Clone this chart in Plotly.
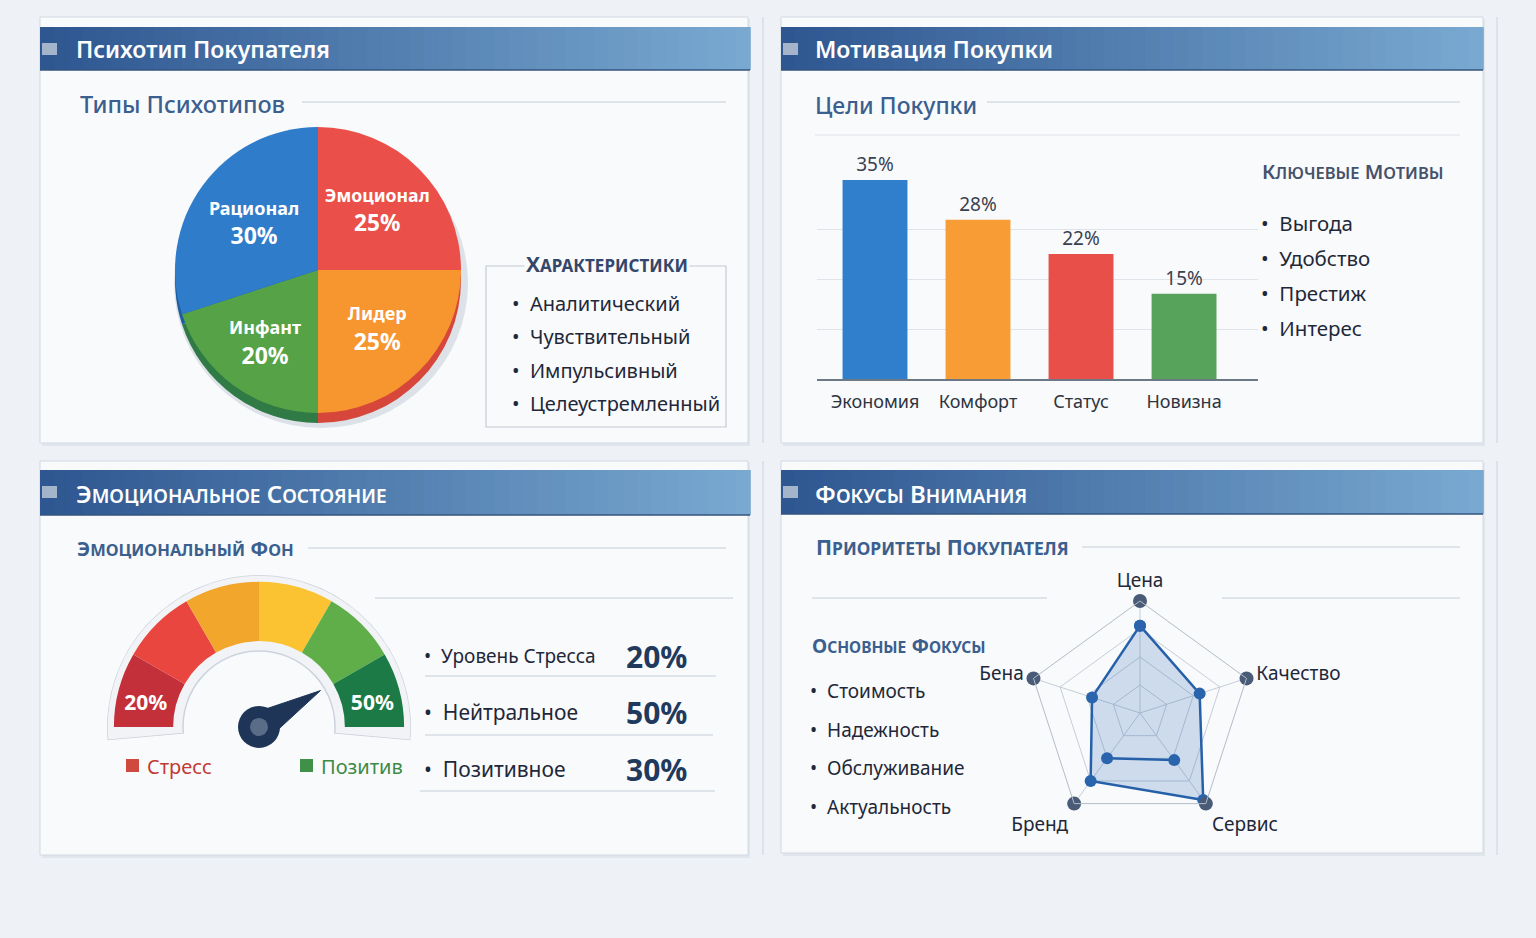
import plotly.graph_objects as go

W, H = 1536, 938
FONT = "Noto Sans"

# ---------------- data ----------------
pie_labels = ["Эмоционал", "Лидер", "Инфант", "Рационал"]
pie_values = [25, 25, 20, 30]
traits = ["Аналитический", "Чувствительный", "Импульсивный", "Целеустремленный"]

bar_categories = ["Экономия", "Комфорт", "Статус", "Новизна"]
bar_values = [35, 28, 22, 15]
motives = ["Выгода", "Удобство", "Престиж", "Интерес"]

gauge_labels = ["20%", "50%"]
gauge_needle = 83
emotion_rows = ["Уровень Стресса", "Нейтральное", "Позитивное"]
emotion_values = [20, 50, 30]
gauge_legend = ["Стресс", "Позитив"]

radar_axes = ["Цена", "Качество", "Сервис", "Бренд", "Бена"]
radar_values = [0.78, 0.56, 0.96, 0.75, 0.45]
radar_inner_axes = ["Бренд", "Сервис"]
radar_inner_values = [0.50, 0.52]
focus_items = ["Стоимость", "Надежность", "Обслуживание", "Актуальность"]

# ---------------- styles ----------------
pie_colors = ["#ea5049", "#f7952f", "#56a246", "#2f7ccb"]
pie_rim_colors = ["#c93c36", "#d6463a", "#2f7a45", "#1f5b9f"]
bar_colors = ["#2f7fcd", "#f89c35", "#e84f49", "#58a35c"]
gauge_colors = ["#c4303a", "#e8463f", "#f2a62c", "#fbc332", "#5fae49", "#1b7a45"]
CARD = "#f9fafc"
TXT = "#1f2838"
SUB = "#3b5f8e"


def px(x):
    return x / W


def py(y):
    return 1 - y / H


def sc(text, big, small):
    parts = []
    for w in text.split(" "):
        parts.append(f"<span style='font-size:{big}px'>{w[0]}</span>"
                     f"<span style='font-size:{small}px'>{w[1:].upper()}</span>")
    return " ".join(parts)


def lerp(c0, c1, t):
    a = [int(c0[i:i + 2], 16) for i in (1, 3, 5)]
    b = [int(c1[i:i + 2], 16) for i in (1, 3, 5)]
    return "#" + "".join(f"{round(a[k] + (b[k] - a[k]) * t):02x}" for k in range(3))


shapes = []
annotations = []


def rect(x0, y0, x1, y1, fill, line=None, lw=1, layer="below"):
    shapes.append(dict(type="rect", xref="paper", yref="paper", x0=px(x0), x1=px(x1),
                       y0=py(y1), y1=py(y0), fillcolor=fill, layer=layer,
                       line=dict(color=line or "rgba(0,0,0,0)", width=lw if line else 0)))


def hline(x0, x1, y, color="#c5cdd8", w=1.2):
    shapes.append(dict(type="line", xref="paper", yref="paper", x0=px(x0), x1=px(x1),
                       y0=py(y), y1=py(y), line=dict(color=color, width=w), layer="below"))


def text(x, y, s, size, color=TXT, anchor="left", weight=None, bg=None):
    f = dict(family=FONT, size=size, color=color)
    if weight:
        f["weight"] = weight
    if anchor == "left":
        x -= 2
    d = dict(x=px(x), y=py(y), xref="paper", yref="paper", text=s, showarrow=False,
             xanchor=anchor, yanchor="middle", font=f)
    if bg:
        d["bgcolor"] = bg
    annotations.append(d)


# ---------------- cards ----------------
cards = [(40, 17, 748, 443, 27, 70, 750), (781, 17, 1483, 443, 27, 70, 1483),
         (40, 461, 748, 855, 470, 515, 750), (781, 461, 1483, 853, 470, 514, 1483)]
for (x0, y0, x1, y1, hy0, hy1, hx1) in cards:
    rect(x0 + 2, y0 + 2, x1 + 2, y1 + 3, "#e1e6ed")
    rect(x0, y0, x1, y1, CARD, "#d3d9e2", 1)
    n = 50
    step = (hx1 - x0) / n
    for i in range(n):
        c = lerp("#2e5690", "#79a9d1", i / (n - 1))
        rect(x0 + i * step, hy0, x0 + (i + 1) * step + 0.8, hy1, c)
    hline(x0, hx1, hy1, "#34557f", 1.5)
    rect(x0 + 2, hy0 + 16, x0 + 17, hy0 + 28, "#a3b4cb")
for x in (763, 1497):
    shapes.append(dict(type="line", xref="paper", yref="paper", x0=px(x), x1=px(x),
                       y0=py(443), y1=py(17), line=dict(color="#d9dee6", width=1.5), layer="below"))
    shapes.append(dict(type="line", xref="paper", yref="paper", x0=px(x), x1=px(x),
                       y0=py(855), y1=py(461), line=dict(color="#d9dee6", width=1.5), layer="below"))

text(76, 49, "Психотип Покупателя", 23, "white", weight=600)
text(815, 49, "Мотивация Покупки", 23, "white", weight=600)
text(76, 494, sc("Эмоциональное Состояние", 24, 19), 24, "white", weight=600)
text(815, 493, sc("Фокусы Внимания", 24, 19), 24, "white", weight=600)

# subtitles
text(80, 104, "Типы Психотипов", 23.5, SUB, weight=500)
hline(302, 726, 102)
text(815, 105, "Цели Покупки", 23, SUB, weight=500)
hline(987, 1460, 102)
hline(815, 1460, 135, "#dde2ea")
text(77, 548, sc("Эмоциональный Фон", 20, 16.5), 20, SUB, weight=700)
hline(308, 726, 548)
text(816, 547, sc("Приоритеты Покупателя", 21, 17.5), 21, SUB, weight=700)
hline(1082, 1460, 547)

# ---------------- pie ----------------
shapes.append(dict(type="circle", xref="paper", yref="paper", x0=px(174), x1=px(468),
                   y0=py(428), y1=py(138), fillcolor="#dde1e8", line=dict(width=0), layer="below"))
fig = go.Figure()
fig.add_trace(go.Pie(labels=pie_labels, values=pie_values, sort=False, direction="clockwise",
                     rotation=0, marker=dict(colors=pie_rim_colors, line=dict(width=0)),
                     textinfo="none", hoverinfo="skip",
                     domain=dict(x=[px(175), px(461)], y=[py(423), py(137)])))
fig.add_trace(go.Pie(labels=pie_labels, values=pie_values, sort=False, direction="clockwise",
                     rotation=0, marker=dict(colors=pie_colors, line=dict(width=0)),
                     texttemplate="<span style='font-size:18px'>%{label}</span><br>%{value}%",
                     textposition="inside", insidetextorientation="horizontal",
                     textfont=dict(family=FONT, size=23, color="white", weight=700),
                     domain=dict(x=[px(175), px(461)], y=[py(413), py(127)])))

rect(486, 266, 726, 427, "rgba(0,0,0,0)", "#c3cad4", 1.2)
text(607, 264, sc("Характеристики", 21, 17), 21, "#34476a", anchor="center", weight=700, bg=CARD)
for i, t in enumerate(traits):
    text(512, 303 + i * 33.5, "•  " + t, 20, TXT)

# ---------------- bar ----------------
fig.add_trace(go.Bar(x=bar_categories, y=bar_values, marker=dict(color=bar_colors, line=dict(width=0)),
                     texttemplate="%{y}%", textposition="outside", cliponaxis=False,
                     textfont=dict(family=FONT, size=19, color="#3a4150"), xaxis="x", yaxis="y"))
text(1262, 172, sc("Ключевые Мотивы", 20, 16.5), 20, "#45526a", weight=600)
for i, t in enumerate(motives):
    text(1261, 223 + i * 35, "•  " + t, 20.5, TXT)

# ---------------- gauge ----------------
fig.add_trace(go.Barpolar(r=[0.5], base=[0.5], theta=[90], width=[190],
                          marker=dict(color="#f1f3f6", line=dict(color="#cdd3dc", width=1.5)),
                          hoverinfo="skip", subplot="polar"))
fig.add_trace(go.Barpolar(r=[0.39] * 6, base=[0.565] * 6, theta=[165, 135, 105, 75, 45, 15],
                          width=[30] * 6, marker=dict(color=gauge_colors, line=dict(width=0)),
                          hoverinfo="skip", subplot="polar"))
fig.add_trace(go.Scatterpolar(r=[0.76, 0.76], theta=[169, 11], text=gauge_labels, mode="text",
                              textfont=dict(family=FONT, size=21, color="white", weight=700),
                              cliponaxis=False, subplot="polar"))
na = 180 * (1 - gauge_needle / 100)
fig.add_trace(go.Scatterpolar(r=[0.47, 0.1, 0.1, 0.47], theta=[na, na + 90, na - 90, na],
                              fill="toself", fillcolor="#1f3557", mode="lines",
                              line=dict(color="#1f3557", width=1), subplot="polar2"))
fig.add_trace(go.Scatterpolar(r=[0], theta=[0], mode="markers",
                              marker=dict(size=42, color="#1f3557", line=dict(width=0)),
                              subplot="polar2", cliponaxis=False))
fig.add_trace(go.Scatterpolar(r=[0], theta=[0], mode="markers",
                              marker=dict(size=18, color="#5a6c88", line=dict(width=0)),
                              subplot="polar2", cliponaxis=False))
rect(126, 759, 139, 772, "#d0493e")
text(147, 766, gauge_legend[0], 20, "#c23b34")
rect(300, 759, 313, 772, "#3e9147")
text(321, 766, gauge_legend[1], 20, "#3d8a46")

hline(375, 733, 598)
rows_y = [656, 712, 769]
sizes = [19, 21, 21]
for i, (lab, val) in enumerate(zip(emotion_rows, emotion_values)):
    text(424, rows_y[i], "•  " + lab, sizes[i], TXT)
    text(626, rows_y[i], f"{val}%", 30, "#1f3a5c", weight=700)
hline(425, 716, 676)
hline(425, 713, 735)
hline(420, 715, 791)

# ---------------- radar ----------------
fig.add_trace(go.Scatterpolar(r=radar_values + radar_values[:1], theta=radar_axes + radar_axes[:1],
                              fill="toself", fillcolor="rgba(52,110,180,0.22)", mode="lines+markers",
                              line=dict(color="#2560a8", width=2.5),
                              marker=dict(size=12, color="#2a64ad"), subplot="polar3", cliponaxis=False))
fig.add_trace(go.Scatterpolar(r=radar_inner_values, theta=radar_inner_axes, mode="lines+markers",
                              line=dict(color="#2560a8", width=2.5),
                              marker=dict(size=12, color="#2a64ad"), subplot="polar3", cliponaxis=False))
fig.add_trace(go.Scatterpolar(r=[1] * len(radar_axes), theta=radar_axes, mode="markers",
                              marker=dict(size=14, color="#4a5b78"), subplot="polar3", cliponaxis=False))
hline(812, 1047, 598)
hline(1222, 1460, 598)
text(812, 645, sc("Основные Фокусы", 19.5, 15.5), 19.5, SUB, weight=700)
for i, t in enumerate(focus_items):
    text(810, 691 + i * 38.5, "•  " + t, 19, TXT)

# ---------------- layout ----------------
fig.update_layout(
    width=W, height=H, margin=dict(l=0, r=0, t=0, b=0),
    paper_bgcolor="#eef1f6", plot_bgcolor="rgba(0,0,0,0)", showlegend=False,
    font=dict(family=FONT),
    bargap=0.37,
    xaxis=dict(domain=[px(817), px(1258)], range=[-0.563, 3.718], showline=True,
               linecolor="#6d7886", linewidth=2, showgrid=False, ticks="outside", ticklen=5,
               tickcolor="rgba(0,0,0,0)", tickfont=dict(family=FONT, size=18, color="#2d3440"),
               fixedrange=True),
    yaxis=dict(domain=[py(379), py(180)], range=[0, 35], dtick=8.75, showticklabels=False,
               gridcolor="#dfe3ea", gridwidth=1, zeroline=False, fixedrange=True),
    polar=dict(domain=dict(x=[px(107), px(411)], y=[py(740.2), py(575)]), sector=[-5, 185],
               bgcolor="rgba(0,0,0,0)", hole=0,
               radialaxis=dict(visible=False, range=[0, 1]),
               angularaxis=dict(visible=False)),
    polar2=dict(domain=dict(x=[px(107), px(411)], y=[py(740.2), py(575)]), sector=[-5, 185],
                bgcolor="rgba(0,0,0,0)",
                radialaxis=dict(visible=False, range=[0, 1]),
                angularaxis=dict(visible=False)),
    polar3=dict(domain=dict(x=[px(1028), px(1252)], y=[py(825), py(601)]),
                bgcolor="rgba(0,0,0,0)", gridshape="linear",
                radialaxis=dict(range=[0, 1], tickvals=[0.25, 0.5, 0.75, 1], showticklabels=False,
                                ticks="", showline=False, gridcolor="#c6cdd8"),
                angularaxis=dict(direction="clockwise", rotation=90, categoryorder="array",
                                 categoryarray=radar_axes, showline=True, linecolor="#b3bcc8",
                                 gridcolor="#c6cdd8", ticks="outside", ticklen=6,
                                 tickcolor="rgba(0,0,0,0)",
                                 tickfont=dict(family=FONT, size=19, color=TXT))),
    shapes=shapes, annotations=annotations,
)

fig.write_html("out.html")
